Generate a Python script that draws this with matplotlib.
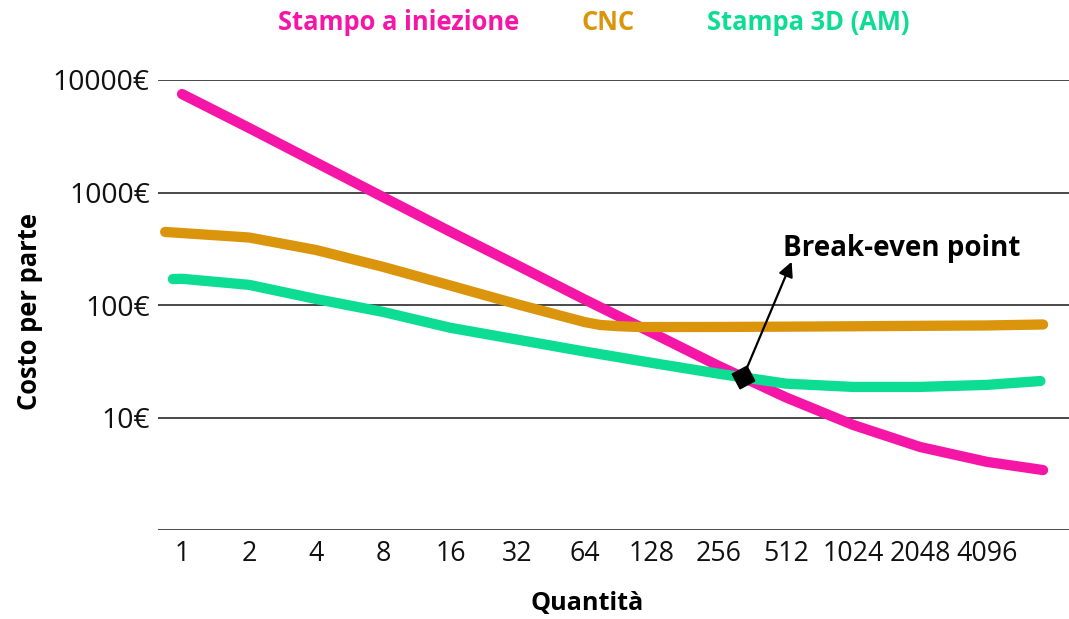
import matplotlib
matplotlib.use("Agg")
import matplotlib.pyplot as plt
import numpy as np

plt.rcParams['font.family'] = ['Open Sans', 'DejaVu Sans']

# ---- data ----
tick_qty = [1, 2, 4, 8, 16, 32, 64, 128, 256, 512, 1024, 2048, 4096]
tick_labels = ["1", "2", "4", "8", "16", "32", "64", "128", "256", "512", "1024", "2048", "4096"]

inj_qty = [1, 2, 4, 8, 16, 32, 64, 128, 256, 512, 1024, 2048, 4096, 7300]
inj_cost = [7500, 3745, 1843, 908, 448, 225, 112, 56.8, 28.7, 15.1, 8.6, 5.47, 4.03, 3.41]

cnc_qty = [0.84, 1, 2, 4, 8, 16, 32, 48, 64, 75, 92, 114, 128, 256, 512, 1024, 2048, 4096, 7300]
cnc_cost = [446, 436, 398, 308, 218, 149, 101.4, 82, 70.5, 66.5, 64.7, 63.7, 63.7, 63.8,
            64.2, 64.7, 65.3, 65.8, 67.1]

am_qty = [0.91, 1, 2, 4, 8, 16, 32, 64, 128, 256, 512, 1024, 2048, 4096, 7100]
am_cost = [170, 171, 151, 113, 86.7, 62.7, 49.2, 38.6, 30.6, 24.5, 20.0, 18.7, 18.7, 19.5, 21.1]

breakeven_qty = 329
breakeven_cost = 22.9

y_ticks = [1, 10, 100, 1000, 10000]
y_labels = ["", "10€", "100€", "1000€", "10000€"]

series_names = ["Stampo a iniezione", "CNC", "Stampa 3D (AM)"]
colors = ["#f516a8", "#db950d", "#0ddc93"]

# ---- figure ----
fig = plt.figure(figsize=(10.69, 6.19), dpi=100)
ax = fig.add_axes([158/1069, 1-530/619, 1-158/1069, (530-80)/619])

ax.set_xscale('log', base=2)
ax.set_yscale('log')
ax.set_xlim(2**-0.358, 2**13.22)
ax.set_ylim(1, 10000)

for y in y_ticks:
    ax.axhline(y, color='#3a3a3a', lw=1.3, zorder=1)

lw = 7.4
for q, c, col in [(inj_qty, inj_cost, colors[0]), (cnc_qty, cnc_cost, colors[1]), (am_qty, am_cost, colors[2])]:
    ax.plot(q, c, color=col, lw=lw, solid_capstyle='round', solid_joinstyle='round', zorder=3)

# break-even marker + arrow
ax.plot([breakeven_qty], [breakeven_cost], marker=(4, 0, -17), markersize=17,
        color='black', zorder=5, linestyle='none')
ax.annotate('', xy=(breakeven_qty, breakeven_cost), xycoords='data',
            xytext=(35, 83), textcoords='offset points',
            arrowprops=dict(arrowstyle='<|-', color='black', lw=1.6,
                            mutation_scale=22, shrinkA=0, shrinkB=0), zorder=6)
ax.annotate('Break-even point', xy=(breakeven_qty, breakeven_cost), xycoords='data',
            xytext=(29, 87), textcoords='offset points', ha='left', va='baseline',
            fontsize=20, fontweight='bold', color='black')

for s in ax.spines.values():
    s.set_visible(False)

ax.set_yticks(y_ticks)
ax.set_yticklabels(y_labels)
ax.yaxis.set_minor_locator(matplotlib.ticker.NullLocator())
ax.set_xticks(tick_qty)
ax.set_xticklabels(tick_labels)
ax.xaxis.set_minor_locator(matplotlib.ticker.NullLocator())
ax.tick_params(axis='y', length=0, pad=6, labelsize=20.3, labelcolor='#111111')
ax.tick_params(axis='x', length=0, pad=7, labelsize=19.3, labelcolor='#111111')

fig.text(30/1069, 1-311/619, 'Costo per parte', rotation=90, ha='center', va='center',
         fontsize=18.4, fontweight='bold', color='black')
fig.text(587/1069, 1-603/619, 'Quantità', ha='center', va='center',
         fontsize=18.2, fontweight='bold', color='black')

legend_x = [399, 608.5, 808.5]
for name, col, xx in zip(series_names, colors, legend_x):
    fig.text(xx/1069, 1-23/619, name, ha='center', va='center', fontsize=18.4,
             fontweight='bold', color=col)

fig.savefig('out.png', dpi=100)
